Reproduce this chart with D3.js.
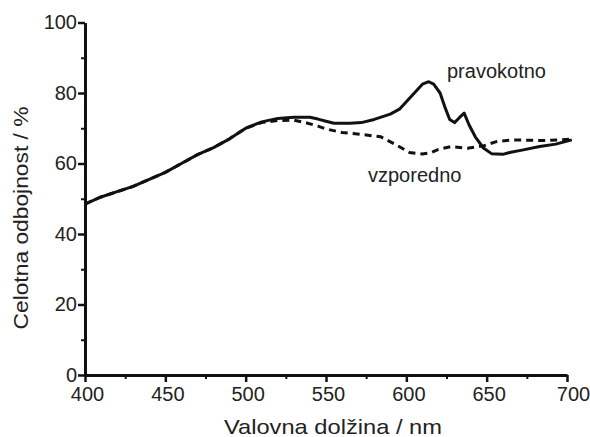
<!DOCTYPE html>
<html>
<head>
<meta charset="utf-8">
<script src="https://cdn.jsdelivr.net/npm/d3@7"></script>
<style>
  body { margin: 0; background: #fff; }
  text { font-family: "Liberation Sans", Arial, sans-serif; fill: #222; }
</style>
</head>
<body>
<div id="chart"></div>
<script>
// frame constants
const FRAME_WIDTH = 590;
const FRAME_HEIGHT = 437;
const MARGINS = {left: 85, right: 23, top: 22.5, bottom: 62};
const VIS_WIDTH = FRAME_WIDTH - MARGINS.left - MARGINS.right;
const VIS_HEIGHT = FRAME_HEIGHT - MARGINS.top - MARGINS.bottom;

// data
const wavePravokotno = [400, 410, 420, 430, 440, 450, 460, 470, 480, 490, 500, 510, 520, 530, 540,
  545, 550, 555, 565, 572, 580, 590, 596, 600, 605, 610, 614, 617, 621, 624, 627, 630, 633, 636,
  639, 643, 648, 653, 660, 665, 672, 683, 693, 703];
const valPravokotno = [48.5, 50.5, 52, 53.5, 55.5, 57.5, 60, 62.5, 64.5, 67, 70, 71.8, 72.8, 73.1, 73.1,
  72.6, 72, 71.4, 71.4, 71.6, 72.5, 74, 75.5, 77.5, 80, 82.5, 83.2, 82.5, 80, 76, 72.5, 71.6, 73, 74.3,
  71, 67.5, 64.4, 62.8, 62.6, 63.2, 63.8, 64.8, 65.5, 66.7];

const waveVzporedno = [400, 410, 420, 430, 440, 450, 460, 470, 480, 490, 500, 510, 520, 530, 538,
  545, 550, 560, 571, 584, 594, 602, 610, 615, 620, 628, 638, 648, 656, 666, 687, 703];
const valVzporedno = [48.5, 50.5, 52, 53.5, 55.5, 57.5, 60, 62.5, 64.5, 67, 70, 71.6, 72.2, 72.3, 71.5,
  70.6, 69.8, 68.8, 68.3, 67.6, 65.2, 63.1, 62.7, 63, 64, 64.8, 64.3, 65, 66.2, 66.7, 66.5, 66.9];

const xTicks = [400, 450, 500, 550, 600, 650, 700];
const xMinor = [425, 475, 525, 575, 625, 675];
const yTicks = [0, 20, 40, 60, 80, 100];
const yMinor = [10, 30, 50, 70, 90];

const FRAME = d3.select("#chart")
  .append("svg")
    .attr("width", FRAME_WIDTH)
    .attr("height", FRAME_HEIGHT)
  .append("g")
    .attr("transform", "translate(" + MARGINS.left + "," + MARGINS.top + ")");

const xScale = d3.scaleLinear().domain([400, 700]).range([0, VIS_WIDTH]);
const yScale = d3.scaleLinear().domain([0, 100]).range([VIS_HEIGHT, 0]);

// minor ticks first, under the main axes
FRAME.append("g")
  .attr("transform", "translate(0," + VIS_HEIGHT + ")")
  .call(d3.axisBottom(xScale).tickValues(xMinor).tickSize(4).tickFormat(""))
  .call(g => g.select(".domain").remove())
  .selectAll("line").attr("stroke", "#111").attr("stroke-width", 2);

FRAME.append("g")
  .call(d3.axisLeft(yScale).tickValues(yMinor).tickSize(4).tickFormat(""))
  .call(g => g.select(".domain").remove())
  .selectAll("line").attr("stroke", "#111").attr("stroke-width", 2);

// x axis
const xAxis = FRAME.append("g")
  .attr("transform", "translate(0," + VIS_HEIGHT + ")")
  .call(d3.axisBottom(xScale).tickValues(xTicks).tickSize(7).tickPadding(5).tickSizeOuter(0));
xAxis.select(".domain").attr("stroke", "#111").attr("stroke-width", 3);
xAxis.selectAll(".tick line").attr("stroke", "#111").attr("stroke-width", 2.5);
xAxis.selectAll("text")
  .style("font-size", "20px")
  .attr("fill", "#222")
  .attr("dx", d => d === 700 ? 6 : 2);   // last label runs off the edge like the original

// y axis
const yAxis = FRAME.append("g")
  .call(d3.axisLeft(yScale).tickValues(yTicks).tickSize(7).tickPadding(1).tickSizeOuter(0));
yAxis.select(".domain").attr("stroke", "#111").attr("stroke-width", 3);
yAxis.selectAll(".tick line").attr("stroke", "#111").attr("stroke-width", 2.5);
yAxis.selectAll("text").style("font-size", "20px").attr("fill", "#222");

const line = d3.line()
  .x(d => xScale(d[0]))
  .y(d => yScale(d[1]));

// vzporedno (dashed)
FRAME.append("path")
  .datum(d3.zip(waveVzporedno, valVzporedno))
  .attr("d", line)
  .attr("fill", "none")
  .attr("stroke", "#111")
  .attr("stroke-width", 3)
  .attr("stroke-dasharray", "7,5");

// pravokotno (solid)
FRAME.append("path")
  .datum(d3.zip(wavePravokotno, valPravokotno))
  .attr("d", line)
  .attr("fill", "none")
  .attr("stroke", "#111")
  .attr("stroke-width", 3)
  .attr("stroke-linejoin", "round");

// curve labels
FRAME.append("text")
  .attr("x", 447 - MARGINS.left)
  .attr("y", 78 - MARGINS.top)
  .style("font-size", "20px")
  .text("pravokotno");

FRAME.append("text")
  .attr("x", 368 - MARGINS.left)
  .attr("y", 182 - MARGINS.top)
  .style("font-size", "20px")
  .text("vzporedno");

// axis titles
FRAME.append("text")
  .attr("x", 333 - MARGINS.left)
  .attr("y", 434 - MARGINS.top)
  .attr("text-anchor", "middle")
  .attr("textLength", 218)
  .attr("lengthAdjust", "spacingAndGlyphs")
  .style("font-size", "21px")
  .text("Valovna dolžina / nm");

FRAME.append("text")
  .attr("transform", "translate(" + (28 - MARGINS.left) + "," + (218 - MARGINS.top) + ") rotate(-90)")
  .attr("text-anchor", "middle")
  .attr("textLength", 223)
  .attr("lengthAdjust", "spacingAndGlyphs")
  .style("font-size", "21px")
  .text("Celotna odbojnost / %");
</script>
</body>
</html>
